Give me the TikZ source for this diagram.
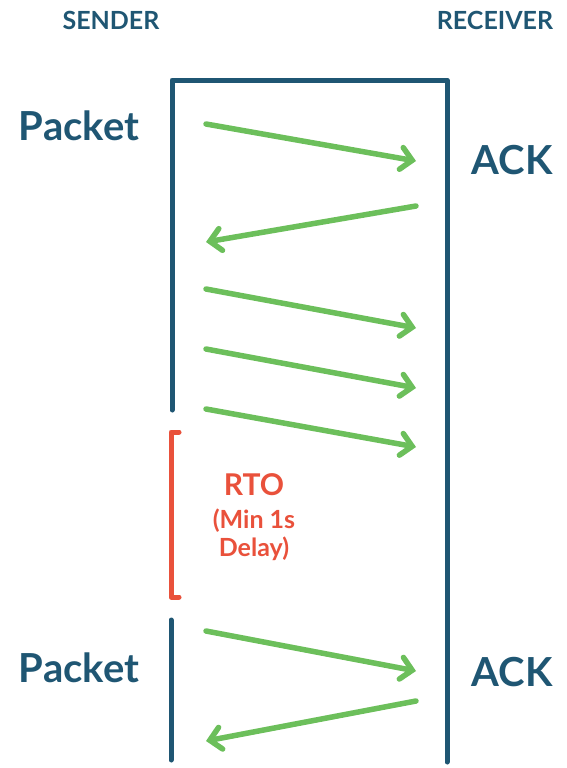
\documentclass[tikz,border=0pt]{standalone}
\usepackage{fontspec}
\setmainfont{Lato}
\usetikzlibrary{arrows.meta}
\definecolor{navy}{HTML}{1F5673}
\definecolor{grn}{HTML}{6CBF5B}
\definecolor{rd}{HTML}{E9513B}
\begin{document}
\begin{tikzpicture}[x=1pt,y=-1pt,
  wire/.style={navy,line width=5pt,line cap=round,line join=round},
  msg/.style={grn,line width=5.5pt,line cap=round,-{Straight Barb[length=11pt,width=22pt,line cap=round]}},
  head/.style={navy,font=\bfseries\fontsize{25}{28}\selectfont},
  big/.style={navy,font=\bfseries\fontsize{40}{44}\selectfont},
  rto/.style={rd,align=center,font=\bfseries\fontsize{30}{32}\selectfont}]
\useasboundingbox (0,0) rectangle (566,768);
\node[head] (snd) at (111,20) {SENDER};
\node[head] (rcv) at (495,20) {RECEIVER};
\coordinate (tl) at (172,80);
\coordinate (tr) at (447,80);
\coordinate (sb) at (172,410);
\coordinate (rb) at (447,762);
\coordinate (s2t) at (171,620);
\coordinate (s2b) at (171,760);
\draw[wire] (sb) -- (tl) -- (tr) -- (rb);
\draw[wire] (s2t) -- (s2b);
\node[big] (p1) at (79,126) {Packet};
\node[big] (a1) at (512,160) {ACK};
\node[big] (p2) at (79,668) {Packet};
\node[big] (a2) at (512,672) {ACK};
\coordinate (m1a) at (206,124); \coordinate (m1b) at (416,161);
\coordinate (m2a) at (416,206); \coordinate (m2b) at (206,242);
\coordinate (m3a) at (206,289); \coordinate (m3b) at (416,328);
\coordinate (m4a) at (206,349); \coordinate (m4b) at (416,388);
\coordinate (m5a) at (206,409); \coordinate (m5b) at (416,447);
\coordinate (m6a) at (206,631); \coordinate (m6b) at (416,671);
\coordinate (m7a) at (416,701); \coordinate (m7b) at (206,741);
\foreach \i in {1,...,7} \draw[msg] (m\i a) -- (m\i b);
\draw[rd,line width=5pt,line cap=round,line join=round]
  (179,432) -- (171,432) -- (171,597) -- (179,597);
\node[rto] (rtot) at (254,485) {RTO};
\node[rto,font=\bfseries\fontsize{25}{28}\selectfont] (rtod) at (254,535) {(Min 1s\\Delay)};
\end{tikzpicture}
\end{document}
